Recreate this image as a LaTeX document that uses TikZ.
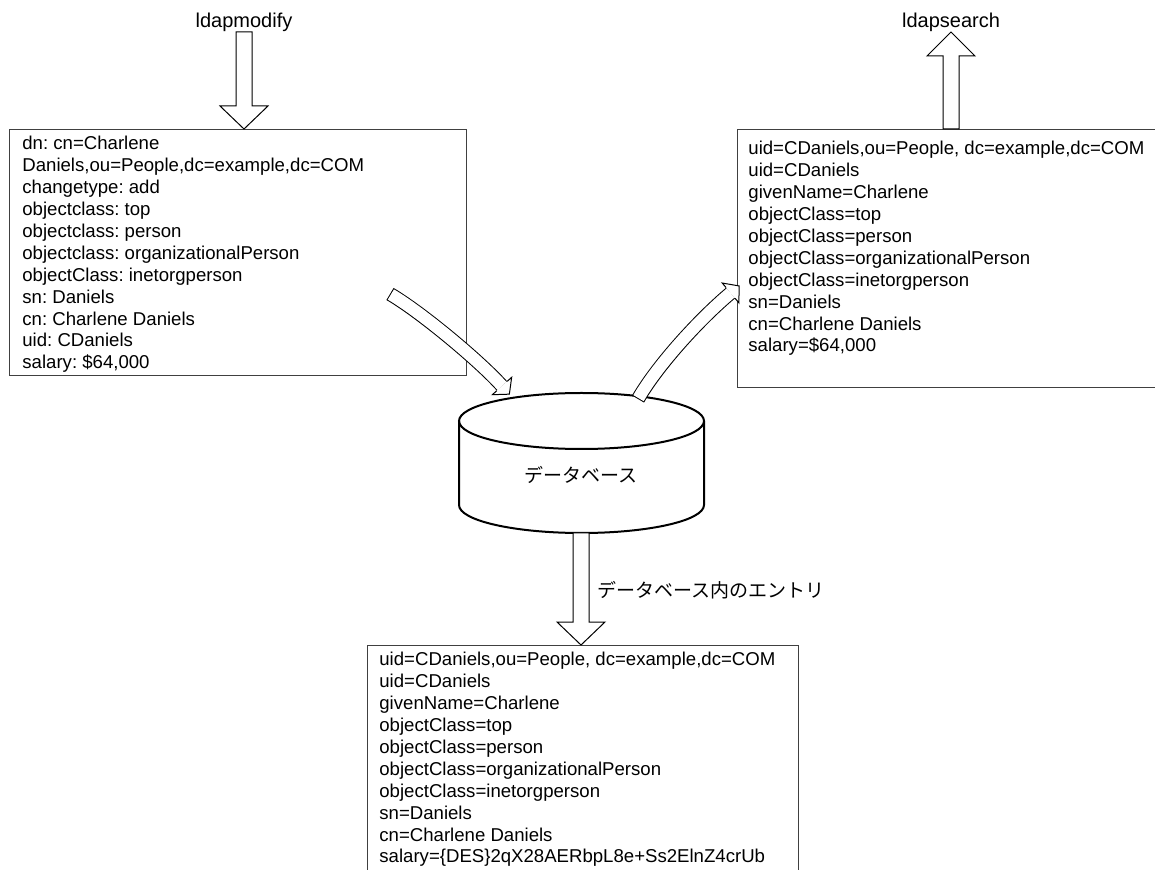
\documentclass[tikz,border=0pt]{standalone}
\usepackage{fontspec}
\setmainfont{Liberation Sans}
\newfontfamily\jpfont{Noto Sans CJK JP}
\usetikzlibrary{calc}
\frenchspacing

\tikzset{
  box/.style={draw=black!75, line width=0.5pt, anchor=north west, inner sep=0pt},
  entrytext/.style={anchor=north west, align=left, inner sep=0pt,
    font=\fontsize{9.3pt}{10.95pt}\selectfont},
  cmdlabel/.style={anchor=south, inner sep=0pt, font=\fontsize{10pt}{12pt}\selectfont},
  jplabel/.style={inner sep=0pt, font=\jpfont\fontsize{9.5pt}{11pt}\selectfont},
  hollow/.style={draw=black, fill=white, line width=0.5pt, line join=miter},
  cyl/.style={line width=1pt}
}

% straight block arrow: from, tip, head length (signed)
\newcommand{\fatarrow}[3]{%
  \draw[hollow] ($(#1)+(-8,0)$) -- ($(#2)+(-8,#3)$) -- ($(#2)+(-24,#3)$) -- (#2)
    -- ($(#2)+(24,#3)$) -- ($(#2)+(8,#3)$) -- ($(#1)+(8,0)$) -- cycle;}
% bent block arrow: tail, control, control, head base
\newcommand{\bentarrow}[4]{%
  \draw[line width=7pt] (#1) .. controls (#2) and (#3) .. (#4);
  \draw[white, line width=6pt, shorten <=0.5pt] (#1) .. controls (#2) and (#3) .. (#4);
  \draw[hollow] ($(#4)!3.5pt!90:(#3)$) -- ($(#4)!6.5pt!90:(#3)$)
    -- ($(#4)!5.5pt!180:(#3)$) -- ($(#4)!6.5pt!-90:(#3)$) -- ($(#4)!3.5pt!-90:(#3)$);}

\begin{document}
\begin{tikzpicture}[x=0.5pt, y=-0.5pt]
  \clip (0,0) rectangle (1155,870);

  % Befehle
  \node[cmdlabel] (modify) at (244,32) {ldapmodify};
  \node[cmdlabel] (search) at (951,32) {ldapsearch};

  % LDIF-Eingabe
  \node[box, minimum width=228.5pt, minimum height=123pt] (ldif) at (9,129) {};
  \node[entrytext] (ldiftext) at (22,136) {dn: cn=Charlene\\
    Daniels,ou=People,dc=example,dc=COM\\
    changetype: add\\
    objectclass: top\\
    objectclass: person\\
    objectclass: organizationalPerson\\
    objectClass: inetorgperson\\
    sn: Daniels\\
    cn: Charlene Daniels\\
    uid: CDaniels\\
    salary: \$64,000};

  % Suchergebnis
  \node[box, minimum width=214pt, minimum height=129pt] (result) at (737,129) {};
  \node[entrytext] (resulttext) at (748,141) {uid=CDaniels,ou=People, dc=example,dc=COM\\
    uid=CDaniels\\
    givenName=Charlene\\
    objectClass=top\\
    objectClass=person\\
    objectClass=organizationalPerson\\
    objectClass=inetorgperson\\
    sn=Daniels\\
    cn=Charlene Daniels\\
    salary=\$64,000};

  % gespeicherter Eintrag
  \node[box, minimum width=215.5pt, minimum height=130pt] (stored) at (367,645) {};
  \node[entrytext] (storedtext) at (379,652) {uid=CDaniels,ou=People, dc=example,dc=COM\\
    uid=CDaniels\\
    givenName=Charlene\\
    objectClass=top\\
    objectClass=person\\
    objectClass=organizationalPerson\\
    objectClass=inetorgperson\\
    sn=Daniels\\
    cn=Charlene Daniels\\
    salary=\{DES\}2qX28AERbpL8e+Ss2ElnZ4crUb};

  % Datenbank
  \draw[cyl] (459,421) -- (459,505)
    arc[start angle=180, end angle=0, x radius=122.5, y radius=28] -- (704,421);
  \draw[cyl] (581.5,421) ellipse [x radius=122.5, y radius=28];
  \node[jplabel] (db) at (581,475) {データベース};
  \coordinate (dbbot) at (581,533);

  % Pfeile
  \fatarrow{modify.south}{modify.south |- ldif.north}{-23}
  \fatarrow{search.south |- result.north}{search.south}{24}
  \fatarrow{dbbot}{dbbot |- stored.north}{-23}
  \node[jplabel, anchor=west] (entry) at (597,590) {データベース内のエントリ};

  \bentarrow{390,294}{420,311.5}{478.6,360}{502,386}
  \bentarrow{638,399}{658,364.4}{700,318.7}{730.6,293}
\end{tikzpicture}
\end{document}
